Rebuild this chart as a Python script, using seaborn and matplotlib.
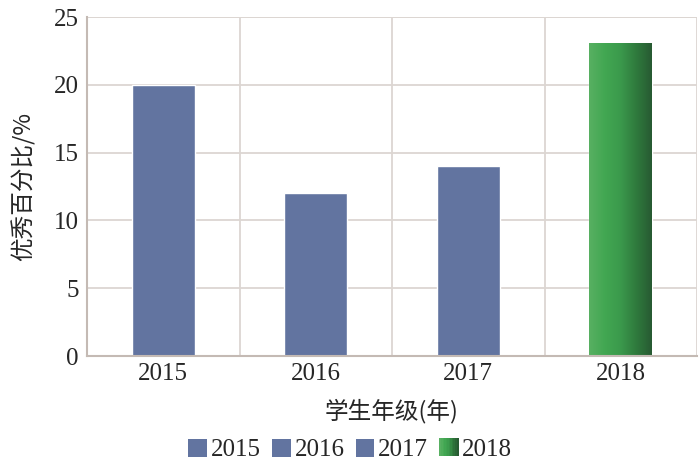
import numpy as np
import pandas as pd
import matplotlib
matplotlib.use("Agg")
import matplotlib.pyplot as plt
import seaborn as sns
from matplotlib.patches import Rectangle
from matplotlib.legend_handler import HandlerBase
from matplotlib.colors import LinearSegmentedColormap

years = ["2015", "2016", "2017", "2018"]
values = [20, 12, 14, 23.1]
colors = ["#6274A0", "#6274A0", "#6274A0", "#46A854"]
green_stops = ["#58B062", "#42A752", "#3B9A4C", "#2F7A3D", "#275A32"]
y_ticks = [0, 5, 10, 15, 20, 25]

sns.set_theme(style="white")
plt.rcParams['font.family'] = ['Liberation Serif', 'Noto Sans CJK SC']
grid_c = "#DCD6D2"
spine_c = "#C4BAB4"

fig = plt.figure(figsize=(7, 4.69), dpi=100)
ax = fig.add_axes([87/700, 1-356/469, 610/700, 339/469])

df = pd.DataFrame({"year": years, "val": values})
sns.barplot(data=df, x="year", y="val", hue="year", palette=colors,
            width=0.41, legend=False, ax=ax, saturation=1)

ax.set_ylim(0, 25)
ax.set_xlim(-0.5, 3.5)
ax.set_yticks(y_ticks)
ax.set_yticklabels([str(t) for t in y_ticks], fontsize=18)
ax.tick_params(axis='x', labelsize=18, length=0, pad=5)
ax.tick_params(axis='y', length=0, pad=6)
ax.set_axisbelow(True)
ax.yaxis.grid(True, color=grid_c, lw=1.3)
for xb in [0.5, 1.5, 2.5, 3.5]:
    ax.axvline(xb, color=grid_c, lw=1.3, zorder=0)
ax.axhline(25, color=grid_c, lw=1.3, zorder=0)
for s in ["top", "right"]:
    ax.spines[s].set_visible(False)
for s in ["left", "bottom"]:
    ax.spines[s].set_color(spine_c)
    ax.spines[s].set_linewidth(1.5)

ax.set_xlabel("学生年级(年)", fontsize=17, labelpad=10,
              family=['Noto Sans CJK SC', 'Liberation Serif'])
ax.set_ylabel("优秀百分比/%", fontsize=17, labelpad=13,
              family=['Noto Sans CJK SC', 'Liberation Serif'])

# gradient on the 2018 bar
cmap = LinearSegmentedColormap.from_list("g", green_stops)
grad = np.linspace(0, 1, 256).reshape(1, -1)
bar = ax.patches[3]
x0, w, h = bar.get_x(), bar.get_width(), bar.get_height()
im = ax.imshow(grad, cmap=cmap, aspect='auto', extent=[x0, x0 + w, 0, h],
               zorder=bar.get_zorder() + 0.1)
im.set_clip_path(bar)
ax.set_xlim(-0.5, 3.5)
ax.set_ylim(0, 25)


class GradHandler(HandlerBase):
    def __init__(self, stops):
        super().__init__()
        self.stops = stops

    def create_artists(self, legend, orig, xd, yd, width, height, fontsize, trans):
        cm = LinearSegmentedColormap.from_list("lg", self.stops)
        n = 12
        arts = []
        for i in range(n):
            r = Rectangle((xd + width * i / n, yd), width / n + 0.3, height,
                          facecolor=cm(i / (n - 1)), edgecolor='none', transform=trans)
            arts.append(r)
        return arts


handles = [Rectangle((0, 0), 1, 1, facecolor=colors[i], edgecolor='none') for i in range(3)]
gh = Rectangle((0, 0), 1, 1, facecolor=colors[3])
handles.append(gh)
fig.legend(handles, years, loc="center", bbox_to_anchor=(0.5, 1 - 450/469),
           ncol=4, frameon=False, fontsize=18, handlelength=0.75, handleheight=0.75,
           handletextpad=0.15, columnspacing=0.45,
           handler_map={gh: GradHandler(green_stops)})

fig.savefig("out.png", dpi=100)
